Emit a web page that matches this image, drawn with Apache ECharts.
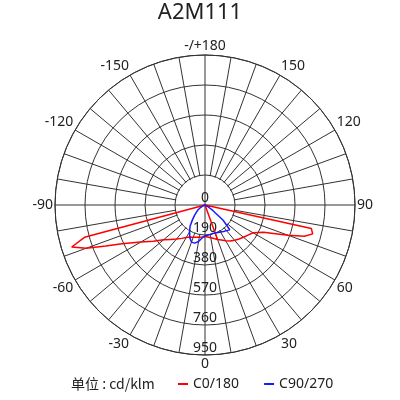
<!DOCTYPE html>
<html>
<head>
<meta charset="utf-8">
<script src="https://cdn.jsdelivr.net/npm/echarts@6/dist/echarts.min.js"></script>
<style>html,body{margin:0;padding:0;background:#fff}#c{width:400px;height:400px}</style>
</head>
<body>
<div id="c"></div>
<script>
// ---- data ----
const chartTitle = 'A2M111';
const unitText = '单位 : cd/klm';
const seriesNames = ['C0/180', 'C90/270'];
const radiusMax = 950;
const radiusStep = 190;

// C0 side (right half)
const c0Gamma = [0, 5, 10, 15, 20, 25, 30, 35, 40, 45, 50, 55, 60, 65, 67.5, 70, 72.5, 75, 77.5, 80, 85, 90];
const c0Value = [200, 203, 210, 220, 232, 245, 262, 278, 292, 305, 318, 332, 352, 410, 470, 560, 660, 706, 690, 0, 0, 0];
// C180 side (left half)
const c180Gamma = [0, 5, 10, 15, 20, 25, 30, 35, 40, 45, 50, 55, 60, 65, 67.5, 70, 72.5, 75, 77.5, 80, 85, 90];
const c180Value = [200, 203, 207, 212, 217, 223, 238, 258, 282, 308, 342, 400, 470, 580, 680, 800, 885, 790, 0, 0, 0, 0];
// C90 side (right half)
const c90Gamma = [0, 5, 10, 15, 20, 25, 30, 35, 40, 45, 47.5, 50, 55, 60, 65, 70, 90];
const c90Value = [195, 192, 189, 187, 188, 192, 198, 205, 212, 222, 226, 150, 60, 22, 6, 0, 0];
// C270 side (left half)
const c270Gamma = [0, 5, 10, 15, 20, 25, 30, 35, 40, 45, 50, 55, 60, 65, 70, 75, 90];
const c270Value = [195, 210, 235, 250, 250, 228, 195, 165, 125, 95, 72, 55, 35, 15, 5, 0, 0];

// ---- build polylines ([radius, angle]) ----
const right = (g, v) => g.map((x, i) => [v[i], x]);
const left = (g, v) => g.map((x, i) => [v[i], (360 - x) % 360]);

const rRight = right(c0Gamma, c0Value);
const rLeft = left(c180Gamma, c180Value);
const i20 = c0Gamma.indexOf(20);
const redData = [[0, 180]]
  .concat(rRight.slice(i20))
  .concat(rLeft.slice().reverse())
  .concat(rRight.slice(1, i20 + 1));

const bRight = right(c90Gamma, c90Value);
const bLeft = left(c270Gamma, c270Value);
const blueData = bLeft.slice().reverse().concat(bRight.slice(1));

const FONT = "'Noto Sans', 'Noto Sans CJK SC', sans-serif";
const TXT = '#222';
const GRID = '#333';

const chart = echarts.init(document.getElementById('c'), null, {renderer: 'canvas'});
chart.setOption({
  animation: false,
  backgroundColor: '#fff',
  title: [
    {text: chartTitle, left: 'center', top: 2, padding: 0,
     textStyle: {fontSize: 22, fontWeight: 'normal', color: TXT, fontFamily: FONT}},
    {text: unitText, left: 71, top: 377, padding: 0,
     textStyle: {fontSize: 14, fontWeight: 'normal', color: TXT, fontFamily: "'Noto Sans CJK SC', sans-serif"}}
  ],
  legend: {
    left: 178, top: 377, padding: 0, itemWidth: 10, itemHeight: 2, itemGap: 25, icon: 'rect',
    textStyle: {fontSize: 14, color: TXT, fontFamily: FONT},
    data: seriesNames
  },
  polar: [
    {center: [205, 205], radius: 150},
    {center: [205, 205], radius: 29.3}
  ],
  angleAxis: [
    {polarIndex: 0, type: 'value', min: 0, max: 360, interval: 10, startAngle: 270, clockwise: false, z: 0,
     axisLine: {show: true, lineStyle: {color: GRID, width: 1}},
     axisTick: {show: false},
     splitLine: {show: true, lineStyle: {color: GRID, width: 1}},
     axisLabel: {margin: 2, fontSize: 14, color: TXT, fontFamily: FONT,
       formatter: v => (v % 30 !== 0) ? '' : (v === 180 ? '-/+180' : (v > 180 ? String(v - 360) : String(v)))}},
    {polarIndex: 1, type: 'value', min: 0, max: 360, interval: 90, startAngle: 270, clockwise: false, z: 1,
     axisLine: {show: false}, axisTick: {show: false}, axisLabel: {show: false},
     splitLine: {show: true, lineStyle: {color: GRID, width: 1}}}
  ],
  radiusAxis: [
    {polarIndex: 0, type: 'value', min: 0, max: radiusMax, interval: radiusStep, z: 2,
     axisLine: {show: false}, axisTick: {show: false},
     splitLine: {show: true, lineStyle: {color: GRID, width: 1}},
     axisLabel: {margin: 0, align: 'center', verticalAlign: 'bottom', fontSize: 14, color: TXT, fontFamily: FONT}},
    {polarIndex: 1, type: 'value', min: 0, max: 1, interval: 1, z: 1,
     axisLine: {show: false}, axisTick: {show: false}, axisLabel: {show: false},
     splitLine: {show: false},
     splitArea: {show: true, areaStyle: {color: ['#ffffff']}}}
  ],
  series: [
    {name: seriesNames[0], type: 'line', coordinateSystem: 'polar', polarIndex: 0, z: 3,
     showSymbol: false, symbol: 'none', color: '#ff0000', lineStyle: {color: '#ff0000', width: 1.5}, data: redData},
    {name: seriesNames[1], type: 'line', coordinateSystem: 'polar', polarIndex: 0, z: 4,
     showSymbol: false, symbol: 'none', color: '#1a1aff', lineStyle: {color: '#1a1aff', width: 1.5}, data: blueData}
  ]
});
</script>
</body>
</html>
